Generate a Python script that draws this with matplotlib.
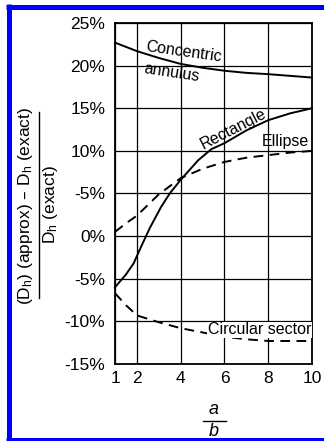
import matplotlib
matplotlib.use('Agg')
import matplotlib.pyplot as plt
from matplotlib.lines import Line2D
from matplotlib.ticker import FixedLocator, FixedFormatter

plt.rcParams['font.family'] = ['Liberation Sans', 'DejaVu Sans']
plt.rcParams['mathtext.default'] = 'regular'

# values (a/b vs percent error)
x_annulus = [1, 2, 3, 4, 5, 6, 7, 8, 9, 10]
annulus = [22.7, 21.7, 20.9, 20.2, 19.75, 19.4, 19.15, 19.0, 18.8, 18.6]

x_rect = [1, 1.5, 1.85, 2.2, 2.6, 3.1, 3.5, 4, 4.8, 5.4, 6, 7, 8, 9, 10]
rect = [-6.0, -4.5, -3.2, -1.2, 1.0, 3.4, 5.0, 6.6, 8.9, 10.2, 10.9, 12.4, 13.6, 14.4, 15.0]

x_ellipse = [1, 1.5, 2, 3, 4, 5, 6, 7, 8, 9, 10]
ellipse = [0.5, 1.5, 2.4, 4.9, 6.8, 7.9, 8.7, 9.2, 9.5, 9.8, 10.0]

x_sector = [1, 1.5, 2, 3, 4, 5, 6, 7, 8, 9, 10]
sector = [-6.7, -8.1, -9.3, -10.1, -10.8, -11.3, -11.8, -12.1, -12.3, -12.3, -12.3]

x_ticks = [1, 2, 4, 6, 8, 10]
y_ticks = [25, 20, 15, 10, 5, 0, -5, -10, -15]
y_labels = ['25%', '20%', '15%', '10%', '-5%', '0%', '-5%', '-10%', '-15%']

W, H = 324, 441
fig = plt.figure(figsize=(W / 100, H / 100), dpi=100)
ax = fig.add_axes([115 / W, 1 - 364 / H, (312 - 115) / W, (364 - 23) / H])

ax.set_xlim(1, 10)
ax.set_ylim(-15, 25)
ax.xaxis.set_major_locator(FixedLocator(x_ticks))
ax.yaxis.set_major_locator(FixedLocator(y_ticks))
ax.yaxis.set_major_formatter(FixedFormatter(y_labels))
ax.tick_params(length=0, labelsize=12.5, colors='black')
ax.tick_params(axis='y', pad=7)
ax.tick_params(axis='x', pad=5)
ax.grid(True, color='black', linewidth=0.9)
ax.set_axisbelow(True)
for s in ax.spines.values():
    s.set_linewidth(1.3)

dash = (0, (5, 3.3))
ax.plot(x_annulus, annulus, color='black', lw=1.4, clip_on=False)
ax.plot(x_rect, rect, color='black', lw=1.4, clip_on=False)
ax.plot(x_ellipse, ellipse, color='black', lw=1.4, ls=dash, clip_on=False)
ax.plot(x_sector, sector, color='black', lw=1.4, ls=dash, clip_on=False)

lab = dict(ha='center', va='center', fontsize=11.5, rotation_mode='anchor')
ax.text(4.14, 21.6, 'Concentric', rotation=-8, **lab)
ax.text(3.58, 19.2, 'annulus', rotation=-8.5, **lab)
ax.text(6.42, 12.55, 'Rectangle', rotation=27, **lab)
ax.text(8.8, 11.06, 'Ellipse', **lab)
ax.text(7.59, -11.0, 'Circular sector',
        bbox=dict(facecolor='white', edgecolor='none', pad=0.5), **lab)

# y label as a stacked fraction
fig.text(26 / W, 1 - 206 / H, '(D$_h$) (approx) \u2013 D$_h$ (exact)',
         rotation=90, ha='center', va='center', fontsize=12.5)
fig.text(50 / W, 1 - 205 / H, 'D$_h$ (exact)',
         rotation=90, ha='center', va='center', fontsize=12.5)
fig.add_artist(Line2D([39 / W, 39 / W], [1 - 112 / H, 1 - 298 / H],
                      color='black', lw=1.0, transform=fig.transFigure))

# x label a/b
fig.text(214 / W, 1 - 410 / H, 'a', style='italic', ha='center', va='center', fontsize=13)
fig.text(214 / W, 1 - 431 / H, 'b', style='italic', ha='center', va='center', fontsize=13)
fig.add_artist(Line2D([203 / W, 226 / W], [1 - 421 / H, 1 - 421 / H],
                      color='black', lw=1.0, transform=fig.transFigure))

# blue frame (left, top, bottom)
blue = '#0000ff'
fig.add_artist(Line2D([6 / W, 1], [1 - 6.5 / H, 1 - 6.5 / H], color=blue, lw=3.6,
                      solid_capstyle='butt', transform=fig.transFigure))
fig.add_artist(Line2D([8.5 / W, 8.5 / W], [1 - 4 / H, 0], color=blue, lw=3.6,
                      solid_capstyle='butt', transform=fig.transFigure))
fig.add_artist(Line2D([6 / W, 1], [1 - 439.5 / H, 1 - 439.5 / H], color=blue, lw=3.6,
                      solid_capstyle='butt', transform=fig.transFigure))

fig.savefig('out.png', dpi=100)
